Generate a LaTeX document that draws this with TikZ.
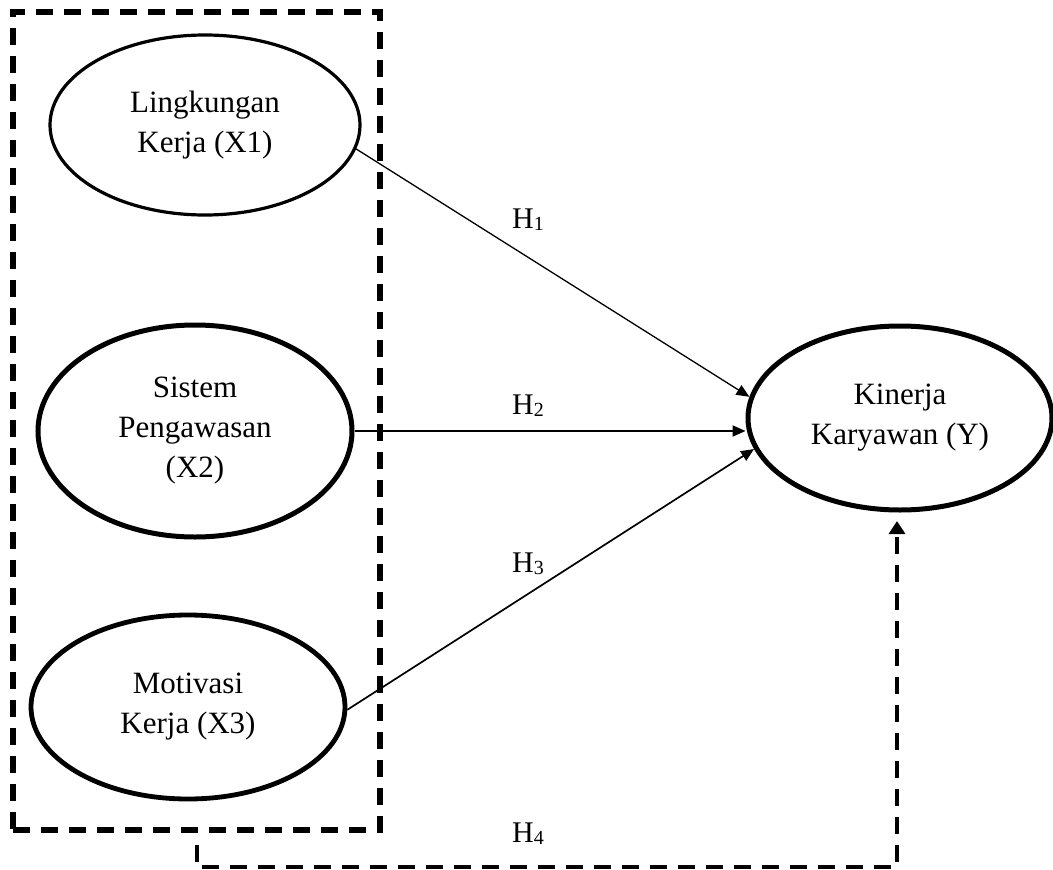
\documentclass[tikz,border=0pt]{standalone}
\usepackage{fontspec}
\setmainfont{Liberation Serif}
\usetikzlibrary{shapes.geometric,arrows.meta}
\newcommand{\hsub}[1]{H{\fontsize{20}{20}\selectfont\raisebox{-2pt}{#1}}}
\begin{document}
\begin{tikzpicture}[x=1pt,y=-1pt,
  latent/.style={ellipse, draw, inner sep=0pt, align=center, font=\fontsize{31}{40}\selectfont},
  hlabel/.style={anchor=base west, inner sep=0pt, font=\fontsize{30}{36}\selectfont},
  tiparrow/.style={-{Triangle[length=13pt,width=11pt]}},
  boxdash/.style={dash pattern=on 17pt off 11pt}]
\useasboundingbox (0,0) rectangle (1053,870);
% group box
\node[draw, line width=5.5pt, boxdash, inner sep=0pt, minimum width=367pt, minimum height=818pt] (grp) at (196.5,421) {};
% latent variables
\node[latent, line width=3.2pt, minimum width=310pt, minimum height=180pt] (x1) at (205,125) {Lingkungan\\Kerja (X1)};
\node[latent, line width=5pt, minimum width=314pt, minimum height=212pt] (x2) at (195,431) {Sistem\\Pengawasan\\(X2)};
\node[latent, line width=4.8pt, minimum width=314pt, minimum height=184pt] (x3) at (188,707) {Motivasi\\Kerja (X3)};
\node[latent, line width=5pt, minimum width=304pt, minimum height=184pt] (y) at (900,418) {Kinerja\\Karyawan (Y)};
% hypotheses
\draw[line width=1.3pt, tiparrow] (x1.-9.3) -- (y.172.4);
\draw[line width=2pt, tiparrow] (x2.east) -- (x2.east -| y.west);
\draw[line width=1.7pt, tiparrow] (x3.-1.8) -- (y.192.2);
% H4
\coordinate (h4s) at ([yshift=-12pt]grp.south);
\coordinate (h4c) at (897,867);
\coordinate (h4t) at (897,521);
\draw[line width=4pt, boxdash, -{Triangle[length=13pt,width=16pt]}] (h4s) |- (h4c) -- (h4t);
% labels
\node[hlabel] (l1) at (512,228) {\hsub{1}};
\node[hlabel] (l2) at (512,414) {\hsub{2}};
\node[hlabel] (l3) at (512,572) {\hsub{3}};
\node[hlabel] (l4) at (512,842) {\hsub{4}};
\end{tikzpicture}
\end{document}
